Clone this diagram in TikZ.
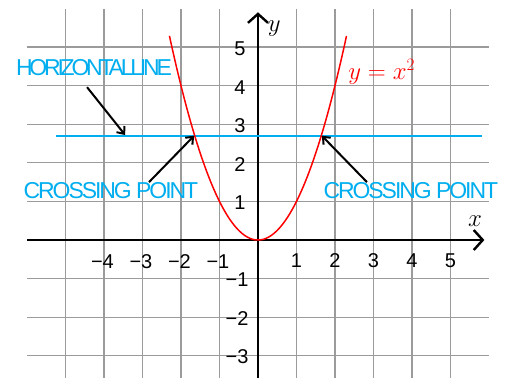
\documentclass[tikz,border=0pt]{standalone}
\usepackage{fontspec}
\setmainfont{Liberation Sans}
\newfontfamily\tightHL[LetterSpace=-14]{Liberation Sans}
\newfontfamily\tightCP[LetterSpace=-9]{Liberation Sans}
\usetikzlibrary{arrows.meta}
\definecolor{cyanL}{RGB}{0,174,239}
\definecolor{gridG}{RGB}{155,155,155}
\tikzset{
  gridline/.style={gridG, line width=1.2pt},
  axisline/.style={black, line width=2.4pt, -{Straight Barb[length=9pt,width=20pt,line width=2.4pt]}},
  pointer/.style={black, line width=2pt, -{Straight Barb[length=6pt,width=10pt,line width=2pt]}},
  tick/.style={inner sep=0pt, font=\fontsize{20}{20}\selectfont},
  bluelabel/.style={inner sep=0pt, text=cyanL},
  mathlabel/.style={inner sep=0pt, font=\fontsize{26}{26}\selectfont},
}
\begin{document}
\begin{tikzpicture}[x=38.5pt,y=38.6pt]
\useasboundingbox (-6.701,-3.549) rectangle (6.416,6.218);
% grid
\foreach \i in {-5,...,-1,1,2,3,4,5} \draw[gridline] (\i,-3.6) -- (\i,5.98);
\foreach \j in {-3,...,-1,1,2,3,4,5} \draw[gridline] (-6,\j) -- (6,\j);
% axes
\coordinate (xs) at (-6,0);
\coordinate (xe) at (5.88,0);
\coordinate (ys) at (0,-3.6);
\coordinate (ye) at (0,5.9);
\draw[axisline] (xs) -- (xe);
\draw[axisline] (ys) -- (ye);
\node[mathlabel] (xl) at (5.64,0.49) {$x$};
\node[mathlabel] (yl) at (0.42,5.47) {$y$};
% tick labels
\foreach \i in {1,...,5} \node[tick] (tx\i) at (\i,-0.54) {\i};
\foreach \i in {1,...,4} \node[tick] (txm\i) at (-\i-0.04,-0.57) {−\i};
\foreach \j in {1,...,5} \node[tick] (ty\j) at (-0.47,\j-0.04) {\j};
\foreach \j in {1,2,3} \node[tick] (tym\j) at (-0.545,-\j-0.03) {−\j};
% horizontal line
\coordinate (hs) at (-5.24,2.70);
\coordinate (he) at (5.83,2.70);
\draw[cyanL, line width=2pt] (hs) -- (he);
% parabola
\draw[red, line width=1.5pt, domain=-2.3:2.3, samples=120] plot (\x,{\x*\x});
\node[mathlabel, text=red, anchor=base west] (eq) at (2.34,4.17) {$y=x^2$};
% labels
\node[bluelabel, font=\tightHL\fontsize{23}{23}\selectfont] (hl) at (-4.26,4.47) {HORIZONTALLINE};
\node[bluelabel, font=\tightCP\fontsize{23}{23}\selectfont] (cpl) at (-3.82,1.27) {CROSSING POINT};
\node[bluelabel, font=\tightCP\fontsize{23}{23}\selectfont] (cpr) at (3.97,1.27) {CROSSING POINT};
% arrows
\coordinate (hlA) at (-4.44,3.96);
\coordinate (hlB) at (-3.45,2.72);
\coordinate (clA) at (-2.83,1.50);
\coordinate (clB) at (-1.66,2.70);
\coordinate (crA) at (2.83,1.50);
\coordinate (crB) at (1.66,2.70);
\draw[pointer] (hlA) -- (hlB);
\draw[pointer] (clA) -- (clB);
\draw[pointer] (crA) -- (crB);
\end{tikzpicture}
\end{document}
